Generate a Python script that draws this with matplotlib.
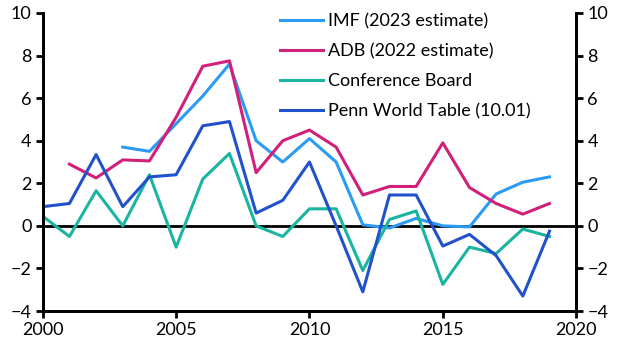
import matplotlib
matplotlib.use("Agg")
import matplotlib.pyplot as plt

plt.rcParams['font.family'] = ['Lato', 'DejaVu Sans']

years_imf = list(range(2003, 2020))
imf = [3.7, 3.5, 4.8, 6.1, 7.6, 4.0, 3.0, 4.1, 3.0, 0.05, -0.1, 0.35, 0.0, -0.05, 1.5, 2.05, 2.3]

years_adb = list(range(2001, 2020))
adb = [2.9, 2.25, 3.1, 3.05, 5.1, 7.5, 7.75, 2.5, 4.0, 4.5, 3.7, 1.45, 1.85, 1.85, 3.9, 1.8, 1.05, 0.55, 1.05]

years_cb = list(range(2000, 2020))
conf_board = [0.45, -0.5, 1.65, 0.0, 2.4, -1.0, 2.2, 3.4, 0.0, -0.5, 0.8, 0.8, -2.1, 0.3, 0.7, -2.75, -1.0, -1.3, -0.15, -0.5]

years_pwt = list(range(2000, 2020))
penn = [0.9, 1.05, 3.35, 0.9, 2.3, 2.4, 4.7, 4.9, 0.6, 1.2, 3.0, 0.0, -3.1, 1.45, 1.45, -0.95, -0.4, -1.4, -3.3, -0.25]

labels = ["IMF (2023 estimate)", "ADB (2022 estimate)", "Conference Board", "Penn World Table (10.01)"]
colors = ["#2B9BF4", "#D0207A", "#19B5A0", "#2152CC"]

fig = plt.figure(figsize=(6.29, 3.61), dpi=100)
ax = fig.add_axes([0.068, 0.1385, 0.848, 0.8255])

lw = 2.2
ax.plot(years_imf, imf, color=colors[0], lw=lw, label=labels[0])
ax.plot(years_adb, adb, color=colors[1], lw=lw, label=labels[1])
ax.plot(years_cb, conf_board, color=colors[2], lw=lw, label=labels[2])
ax.plot(years_pwt, penn, color=colors[3], lw=lw, label=labels[3])
ax.axhline(0, color="black", lw=2.0, zorder=1)

ax.set_xlim(2000, 2020)
ax.set_ylim(-4, 10)
ax.set_xticks([2000, 2005, 2010, 2015, 2020])
ax.set_yticks(range(-4, 11, 2))

ax2 = ax.twinx()
ax2.set_ylim(-4, 10)
ax2.set_yticks(range(-4, 11, 2))

for a in (ax, ax2):
    a.spines['top'].set_visible(False)
    for s in ('left', 'right', 'bottom'):
        a.spines[s].set_linewidth(2.0)
    a.tick_params(direction='out', length=5, width=2.0, labelsize=13, pad=3)

ax.legend(loc='upper left', bbox_to_anchor=(0.445, 1.0), frameon=False, fontsize=13,
          borderpad=0, borderaxespad=0,
          handlelength=2.4, handletextpad=0.25, labelspacing=0.78)

fig.savefig("out.png", dpi=100)
